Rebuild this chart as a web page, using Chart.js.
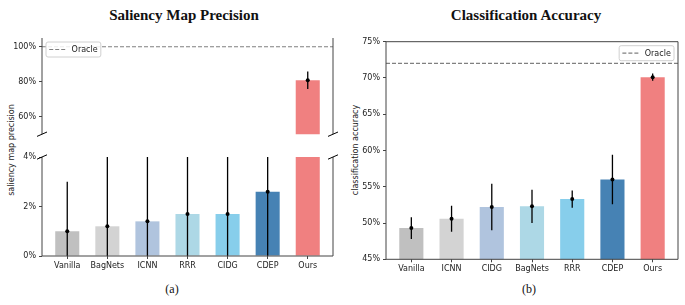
<!DOCTYPE html>
<html>
<head>
<meta charset="utf-8">
<script src="https://cdn.jsdelivr.net/npm/chart.js@4.4.1/dist/chart.umd.min.js"></script>
<style>
  body { margin: 0; background: #fff; }
  #wrap { position: relative; width: 685px; height: 305px; overflow: hidden; }
  canvas { position: absolute; }
  .txt { position: absolute; transform: translate(-50%, -50%); white-space: nowrap; color: #111; }
  .title { font: bold 15px "Liberation Serif", "Times New Roman", serif; }
  .cap { font: 12px "Liberation Serif", "Times New Roman", serif; }
  .ylab { font: 8px "DejaVu Sans", sans-serif; color: #222; transform: translate(-50%, -50%) rotate(-90deg); }
</style>
</head>
<body>
<div id="wrap">
  <div class="txt title" style="left:184px; top:15px;">Saliency Map Precision</div>
  <div class="txt title" style="left:526px; top:15px;">Classification Accuracy</div>
  <div class="txt cap" style="left:172px; top:289px;">(a)</div>
  <div class="txt cap" style="left:529px; top:289px;">(b)</div>
  <div class="txt ylab" style="left:11px; top:150px;">saliency map precision</div>
  <div class="txt ylab" style="left:355px; top:150px;">classification accuracy</div>
  <canvas id="leftTop" width="345" height="112" style="left:0; top:30px;"></canvas>
  <canvas id="leftBottom" width="345" height="135" style="left:0; top:145px;"></canvas>
  <canvas id="right" width="345" height="250" style="left:340px; top:30px;"></canvas>
</div>
<script>
// colours by bar position
const barColors = ['#c0c0c0', '#d3d3d3', '#b0c4de', '#add8e6', '#87ceeb', '#4682b4', '#f08080']

// (a) saliency map precision, %
const leftNames = ['Vanilla', 'BagNets', 'ICNN', 'RRR', 'CIDG', 'CDEP', 'Ours']
const leftMeans = [1.0, 1.2, 1.4, 1.7, 1.7, 2.6, 80.8]
const leftErrs = [2.0, 3.0, 3.0, 3.0, 3.0, 3.0, 5.0]
const leftOracle = 100
const leftTopTicks = [60, 80, 100]
const leftBottomTicks = [0, 2, 4]

// (b) classification accuracy, %
const rightNames = ['Vanilla', 'ICNN', 'CIDG', 'BagNets', 'RRR', 'CDEP', 'Ours']
const rightMeans = [49.3, 50.6, 52.2, 52.3, 53.3, 56.0, 70.1]
const rightErrs = [1.5, 1.8, 3.2, 2.3, 1.2, 3.4, 0.5]
const rightOracle = 72.0
const rightTicks = [45, 50, 55, 60, 65, 70, 75]

const tickFont = { family: 'DejaVu Sans', size: 8 }
const axisColor = '#444'

// error bars, oracle line, spines, axis break marks and legend box
const panelPlugin = {
  id: 'panel',
  afterDatasetsDraw(chart, args, o) {
    const { ctx, chartArea: a } = chart
    const x = chart.scales.x, y = chart.scales.y
    ctx.save()
    ctx.beginPath()
    ctx.rect(a.left, a.top, a.right - a.left, a.bottom - a.top)
    ctx.clip()
    if (o.oracle != null) {
      const py = y.getPixelForValue(o.oracle)
      ctx.strokeStyle = '#808080'
      ctx.lineWidth = 1.2
      ctx.setLineDash([4, 2])
      ctx.beginPath(); ctx.moveTo(a.left, py); ctx.lineTo(a.right, py); ctx.stroke()
      ctx.setLineDash([])
    }
    o.means.forEach((m, i) => {
      const px = x.getPixelForValue(i)
      ctx.strokeStyle = '#000'
      ctx.lineWidth = 1.3
      ctx.beginPath()
      ctx.moveTo(px, y.getPixelForValue(m - o.errs[i]))
      ctx.lineTo(px, y.getPixelForValue(m + o.errs[i]))
      ctx.stroke()
      ctx.fillStyle = '#000'
      ctx.beginPath(); ctx.arc(px, y.getPixelForValue(m), 2, 0, Math.PI * 2); ctx.fill()
    })
    ctx.restore()
  },
  afterDraw(chart, args, o) {
    const { ctx, chartArea: a } = chart
    ctx.save()
    ctx.strokeStyle = axisColor
    ctx.lineWidth = 1
    const s = o.spines
    ctx.beginPath()
    if (s.includes('l')) { ctx.moveTo(a.left, a.top); ctx.lineTo(a.left, a.bottom) }
    if (s.includes('r')) { ctx.moveTo(a.right, a.top); ctx.lineTo(a.right, a.bottom) }
    if (s.includes('t')) { ctx.moveTo(a.left, a.top); ctx.lineTo(a.right, a.top) }
    if (s.includes('b')) { ctx.moveTo(a.left, a.bottom); ctx.lineTo(a.right, a.bottom) }
    ctx.stroke()
    if (o.breaks) {
      const by = o.breaks === 'top' ? a.top : a.bottom
      ctx.strokeStyle = '#000'
      ctx.beginPath()
      for (const bx of [a.left, a.right]) {
        ctx.moveTo(bx - 5, by + 2.2); ctx.lineTo(bx + 5, by - 2.2)
      }
      ctx.stroke()
    }
    if (o.legend) {
      ctx.font = '8px "DejaVu Sans"'
      const tw = ctx.measureText('Oracle').width
      const w = 3.2 + 16 + 6.4 + tw + 3.2, h = 15
      const bx = o.legend === 'left' ? a.left + 4 : a.right - 4 - w
      const by = a.top + 4
      ctx.fillStyle = 'rgba(255,255,255,0.85)'
      ctx.strokeStyle = '#d0d0d0'
      ctx.beginPath(); ctx.roundRect(bx, by, w, h, 2); ctx.fill(); ctx.stroke()
      ctx.strokeStyle = '#808080'
      ctx.lineWidth = 1.2
      ctx.setLineDash([4, 2])
      ctx.beginPath(); ctx.moveTo(bx + 3.2, by + h / 2); ctx.lineTo(bx + 19.2, by + h / 2); ctx.stroke()
      ctx.setLineDash([])
      ctx.fillStyle = '#222'
      ctx.textBaseline = 'middle'
      ctx.fillText('Oracle', bx + 25.6, by + h / 2 + 0.5)
    }
    ctx.restore()
  }
}

function makeChart(id, o) {
  const names = o.names
  return new Chart(document.getElementById(id), {
    type: 'bar',
    data: {
      datasets: [{
        data: o.means.map((v, i) => ({ x: i, y: v })),
        backgroundColor: barColors,
        borderWidth: 0,
        barPercentage: 0.6,
        categoryPercentage: 1
      }]
    },
    options: {
      responsive: false,
      animation: false,
      events: [],
      layout: { padding: o.padding },
      plugins: {
        legend: { display: false },
        tooltip: { enabled: false },
        panel: { means: o.means, errs: o.errs, oracle: o.oracle, spines: o.spines, breaks: o.breaks, legend: o.legend }
      },
      scales: {
        x: {
          type: 'linear',
          display: o.showX,
          offset: false,
          min: -0.63, max: 6.63,
          afterBuildTicks: s => { s.ticks = names.map((n, i) => ({ value: i })) },
          afterFit: s => { s.height = o.xHeight },
          ticks: { font: tickFont, color: '#222', padding: 2, maxRotation: 0, autoSkip: false, callback: v => names[v] },
          grid: { offset: false, drawOnChartArea: false, tickLength: 3, color: axisColor },
          border: { display: false }
        },
        y: {
          min: o.min, max: o.max,
          afterBuildTicks: s => { s.ticks = o.ticks.map(v => ({ value: v })) },
          afterFit: s => { s.width = o.yWidth },
          ticks: { font: tickFont, color: '#222', padding: 3, callback: v => v + '%' },
          grid: { drawOnChartArea: false, tickLength: 3, color: axisColor },
          border: { display: false }
        }
      }
    },
    plugins: [panelPlugin]
  })
}

makeChart('leftTop', {
  names: leftNames, means: leftMeans, errs: leftErrs, oracle: leftOracle,
  min: 50, max: 105, ticks: leftTopTicks,
  padding: { left: 0, right: 12, top: 8, bottom: 5 },
  yWidth: 42, showX: false, xHeight: 0,
  spines: 'lr', breaks: 'bottom', legend: 'left'
})

makeChart('leftBottom', {
  names: leftNames, means: leftMeans, errs: leftErrs, oracle: null,
  min: 0, max: 4, ticks: leftBottomTicks,
  padding: { left: 0, right: 12, top: 12, bottom: 0 },
  yWidth: 42, showX: true, xHeight: 24,
  spines: 'lrb', breaks: 'top', legend: null
})

makeChart('right', {
  names: rightNames, means: rightMeans, errs: rightErrs, oracle: rightOracle,
  min: 45, max: 75, ticks: rightTicks,
  padding: { left: 0, right: 7, top: 11.7, bottom: 0 },
  yWidth: 46, showX: true, xHeight: 20.7,
  spines: 'lrtb', breaks: null, legend: 'right'
})
</script>
</body>
</html>
